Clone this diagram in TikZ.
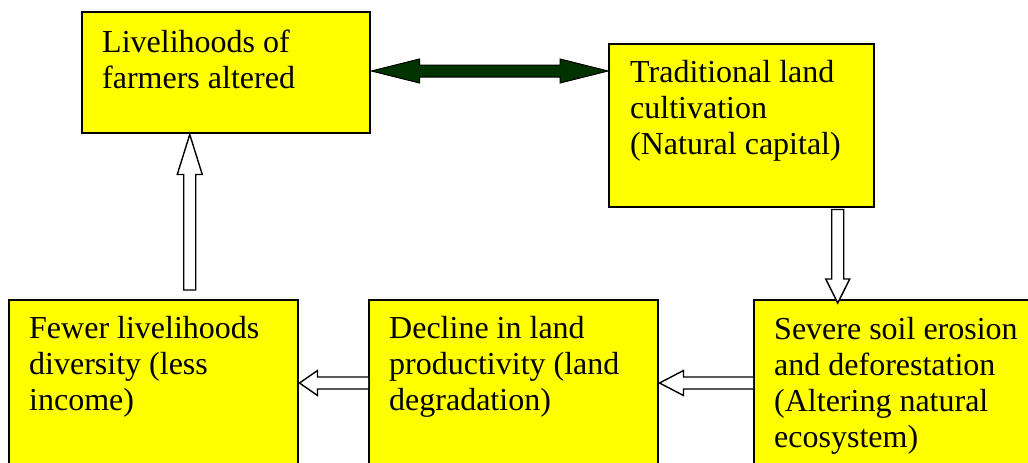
\documentclass[tikz,border=0pt]{standalone}
\usepackage{fontspec}
\setmainfont{Liberation Serif}
\usetikzlibrary{calc}
\definecolor{boxyellow}{HTML}{FFFF00}
\definecolor{arrowgreen}{HTML}{003300}
\begin{document}
\begin{tikzpicture}[x=1pt,y=-1pt,
  boxnode/.style={draw=black, line width=1.5pt, fill=boxyellow, rectangle, inner sep=0, anchor=north west},
  txt/.style={inner sep=0, anchor=base west, font=\fontsize{32}{36}\selectfont},
  hollow/.style={draw=black, line width=1.4pt, fill=white, line join=miter},
  dbl/.style={draw=black, line width=1pt, fill=arrowgreen, line join=miter}]
\useasboundingbox (0,0) rectangle (1028,463);
\clip (0,0) rectangle (1028,463);

% boxes
\node[boxnode, minimum width=288pt, minimum height=121pt] (b1) at (81,11) {};
\node[boxnode, minimum width=265pt, minimum height=163pt] (b2) at (608,43) {};
\node[boxnode, minimum width=289pt, minimum height=200pt] (b3) at (8,299) {};
\node[boxnode, minimum width=289pt, minimum height=200pt] (b4) at (368,299) {};
\node[boxnode, minimum width=300pt, minimum height=200pt] (b5) at (753,299) {};

% texts
\node[txt] (t1) at ($(b1.north west)+(21,41)$) {\parbox[t]{265pt}{\raggedright Livelihoods of\\farmers altered}};
\node[txt] (t2) at ($(b2.north west)+(22,39)$) {\parbox[t]{240pt}{\raggedright Traditional land\\cultivation\\(Natural capital)}};
\node[txt] (t3) at ($(b3.north west)+(21,39)$) {\parbox[t]{265pt}{\raggedright Fewer livelihoods\\diversity (less\\income)}};
\node[txt] (t4) at ($(b4.north west)+(21,39)$) {\parbox[t]{265pt}{\raggedright Decline in land\\productivity (land\\degradation)}};
\node[txt] (t5) at ($(b5.north west)+(21,40)$) {\parbox[t]{265pt}{\raggedright Severe soil erosion\\and deforestation\\(Altering natural\\ecosystem)}};

% double arrow b1 <-> b2
\coordinate (h0) at ($(b1.north east)+(1,60)$);
\coordinate (h1) at (b2.west |- h0);
\draw[dbl] (h0) -- ($(h0)+(48,-12)$) -- ($(h0)+(48,-6)$) -- ($(h1)+(-48,-6)$)
  -- ($(h1)+(-48,-12)$) -- (h1) -- ($(h1)+(-48,12)$) -- ($(h1)+(-48,6)$)
  -- ($(h0)+(48,6)$) -- ($(h0)+(48,12)$) -- cycle;

% b2 -> b5 (down)
\coordinate (d0) at ($(b2.south)+(96.5,2)$);
\coordinate (d1) at ($(b5.north -| d0)+(0,4)$);
\draw[hollow] ($(d0)+(-6,0)$) -- ($(d1)+(-6,-24)$) -- ($(d1)+(-12,-24)$) -- (d1)
  -- ($(d1)+(12,-24)$) -- ($(d1)+(6,-24)$) -- ($(d0)+(6,0)$) -- cycle;

% b5 -> b4 (left)
\coordinate (m1) at ($(b4.north east)+(1,84)$);
\coordinate (m0) at (b5.west |- m1);
\draw[hollow] ($(m0)+(0,-6)$) -- ($(m1)+(24,-6)$) -- ($(m1)+(24,-12.5)$) -- (m1)
  -- ($(m1)+(24,12.5)$) -- ($(m1)+(24,6)$) -- ($(m0)+(0,6)$);

% b4 -> b3 (left)
\coordinate (l1) at ($(b3.north east)+(1,84)$);
\coordinate (l0) at (b4.west |- l1);
\draw[hollow] ($(l0)+(0,-6)$) -- ($(l1)+(18,-6)$) -- ($(l1)+(18,-12.5)$) -- (l1)
  -- ($(l1)+(18,12.5)$) -- ($(l1)+(18,6)$) -- ($(l0)+(0,6)$);

% b3 -> b1 (up)
\coordinate (u1) at ($(b1.south)+(-36,1)$);
\coordinate (u0) at ($(b3.north -| u1)+(0,-9)$);
\draw[hollow] ($(u0)+(-6,0)$) -- ($(u1)+(-6,40)$) -- ($(u1)+(-12.5,40)$) -- (u1)
  -- ($(u1)+(12.5,40)$) -- ($(u1)+(6,40)$) -- ($(u0)+(6,0)$) -- cycle;
\end{tikzpicture}
\end{document}
